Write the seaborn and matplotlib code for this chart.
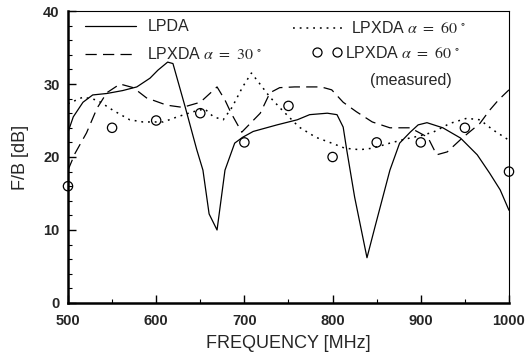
import matplotlib
matplotlib.use("Agg")
import matplotlib.pyplot as plt
from matplotlib.lines import Line2D
from matplotlib.ticker import MultipleLocator
import seaborn as sns
import pandas as pd

# Front-to-back ratio versus frequency
lpda_freq = [500, 506, 517, 528, 544, 562, 578, 593, 602, 613, 619, 633, 646, 653, 660,
             669, 678, 689, 698, 710, 737, 760, 774, 794, 805, 812, 816, 825, 839, 848,
             865, 876, 888, 897, 907, 925, 945, 964, 978, 990, 1000]
lpda_fb = [23.4, 25.5, 27.5, 28.5, 28.7, 29.1, 29.6, 30.8, 31.9, 33.0, 32.8, 26.8, 21.0, 18.2, 12.2,
           10.0, 18.2, 21.9, 22.7, 23.5, 24.4, 25.1, 25.8, 26.0, 25.8, 24.1, 21.0, 14.5, 6.2, 10.4,
           18.2, 21.9, 23.4, 24.4, 24.7, 24.0, 22.6, 20.3, 17.8, 15.5, 12.7]

lpxda30_freq = [500, 508, 521, 533, 544, 559, 574, 589, 612, 630, 650, 669, 678, 685, 697,
                718, 729, 740, 757, 787, 799, 812, 827, 845, 865, 888, 908, 918, 930, 947,
                967, 978, 988, 1000]
lpxda30_fb = [18.2, 20.5, 23.3, 26.7, 28.8, 30.0, 29.5, 28.1, 27.1, 26.8, 27.5, 29.6, 27.8, 26.0, 23.4,
              26.0, 28.8, 29.5, 29.6, 29.6, 29.2, 27.5, 26.2, 24.8, 24.0, 24.0, 22.7, 20.3, 20.7, 22.6,
              24.6, 26.4, 27.8, 29.2]

lpxda60_freq = [500, 517, 533, 551, 570, 585, 608, 624, 642, 655, 665, 676, 686, 698, 708,
                717, 729, 743, 762, 781, 799, 814, 831, 845, 865, 884, 899, 914, 933, 952,
                967, 982, 1000]
lpxda60_fb = [27.3, 28.2, 27.8, 26.4, 25.1, 24.8, 24.8, 25.5, 26.2, 26.6, 25.5, 25.1, 26.8, 29.6, 31.5,
              30.1, 28.2, 26.4, 24.1, 22.7, 21.9, 21.2, 21.0, 21.2, 21.9, 22.5, 22.9, 23.4, 24.6, 25.3,
              25.1, 23.7, 22.3]

meas_freq = [500, 550, 600, 650, 700, 750, 800, 850, 900, 950, 1000]
meas_fb = [16, 24, 25, 26, 22, 27, 20, 22, 22, 24, 18]

x_ticks = [500, 600, 700, 800, 900, 1000]
y_ticks = [0, 10, 20, 30, 40]

sns.set_style("ticks")
plt.rcParams["font.family"] = ["Liberation Sans", "DejaVu Sans"]
plt.rcParams["mathtext.fontset"] = "stix"

fig = plt.figure(figsize=(5.25, 3.55), dpi=100)
ax = fig.add_axes([0.1295, 0.1465, 0.840, 0.8225])

lw = 0.9
dash_style = (0, (9, 5))
dot_style = (0, (1.2, 3.2))

df_lpda = pd.DataFrame({"f": lpda_freq, "fb": lpda_fb})
df_30 = pd.DataFrame({"f": lpxda30_freq, "fb": lpxda30_fb})
df_60 = pd.DataFrame({"f": lpxda60_freq, "fb": lpxda60_fb})
df_m = pd.DataFrame({"f": meas_freq, "fb": meas_fb})

sns.lineplot(data=df_lpda, x="f", y="fb", ax=ax, color="black", lw=lw, sort=False)
sns.lineplot(data=df_30, x="f", y="fb", ax=ax, color="black", lw=lw, sort=False,
             linestyle=dash_style)
sns.lineplot(data=df_60, x="f", y="fb", ax=ax, color="black", lw=1.1, sort=False,
             linestyle=dot_style)
sns.scatterplot(data=df_m, x="f", y="fb", ax=ax, marker="o", s=45,
                facecolor="none", edgecolor="black", linewidth=0.9, zorder=5, clip_on=False)

ax.set_xlim(500, 1000)
ax.set_ylim(0, 40)
ax.set_xticks(x_ticks)
ax.set_yticks(y_ticks)
ax.xaxis.set_minor_locator(MultipleLocator(50))
ax.yaxis.set_minor_locator(MultipleLocator(2))
ax.tick_params(which="major", direction="in", length=6, width=1.0, color="black",
               labelsize=10.5)
ax.tick_params(axis="x", which="major", pad=8)
ax.tick_params(axis="y", which="major", pad=6)
ax.tick_params(which="minor", direction="in", length=3, width=0.8, color="black")
for lab in ax.get_xticklabels() + ax.get_yticklabels():
    lab.set_fontweight("bold")

ax.spines["left"].set_linewidth(1.8)
ax.spines["bottom"].set_linewidth(1.8)
ax.spines["top"].set_linewidth(0.8)
ax.spines["right"].set_linewidth(0.8)
for s in ax.spines.values():
    s.set_color("black")

ax.set_xlabel("FREQUENCY [MHz]", fontsize=13, labelpad=5)
ax.set_ylabel("F/B [dB]", fontsize=13, labelpad=10)

h_lpda = Line2D([], [], color="black", lw=lw)
h_30 = Line2D([], [], color="black", lw=lw, linestyle=dash_style)
h_60 = Line2D([], [], color="black", lw=1.1, linestyle=dot_style)
h_m = Line2D([], [], color="black", lw=0, marker="o", markersize=6.5,
             markerfacecolor="none", markeredgewidth=0.9)

fs = 11.5
common = dict(loc="upper left", frameon=False, fontsize=fs, borderpad=0, borderaxespad=0)

leg1 = ax.legend([h_lpda, h_30], ["LPDA", r"LPXDA $\alpha\ =\ 30\ ^{\circ}$"],
                 bbox_to_anchor=(0.0385, 0.971), handlelength=3.2, handletextpad=0.7,
                 labelspacing=0.75, **common)
ax.add_artist(leg1)
leg2 = ax.legend([h_60], [r"LPXDA $\alpha\ =\ 60\ ^{\circ}$"],
                 bbox_to_anchor=(0.510, 0.968), handlelength=3.3, handletextpad=0.35,
                 **common)
ax.add_artist(leg2)
ax.legend([h_m], [r"LPXDA $\alpha\ =\ 60\ ^{\circ}$"],
          bbox_to_anchor=(0.554, 0.884), handlelength=1.85, handletextpad=0.2,
          numpoints=2, **common)
ax.text((370 - 68) / 441, 1 - (80 - 11) / 292, "(measured)", transform=ax.transAxes,
        fontsize=fs, ha="left", va="center")

fig.savefig("out.png", dpi=100)
